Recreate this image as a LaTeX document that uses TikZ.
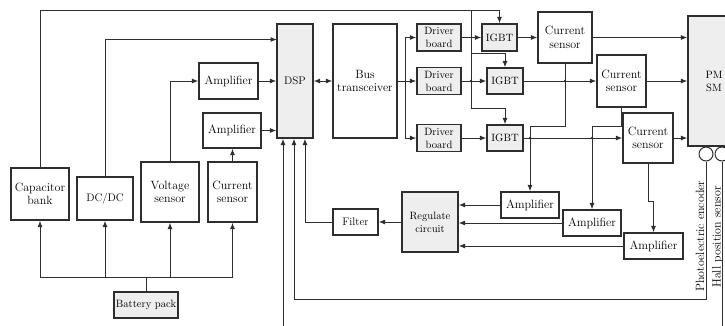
\documentclass[tikz,border=0pt]{standalone}
\usetikzlibrary{arrows.meta,calc}
\definecolor{lc}{HTML}{2E2E2E}
\definecolor{gf}{HTML}{EEEEEE}
\begin{document}
\begin{tikzpicture}[x=1pt,y=-1pt,
  lw/.style={draw=lc,line width=1pt},
  arr/.style={lw,-{Latex[length=6.5pt,width=5pt]}},
  darr/.style={lw,{Latex[length=6.5pt,width=5pt]}-{Latex[length=6.5pt,width=5pt]}},
  box/.style={draw=lc,line width=1.2pt,fill=white,align=center,inner sep=0pt,font=\fontsize{12}{13.5}\selectfont,text=black},
  gbox/.style={box,fill=gf},
  sm/.style={font=\fontsize{10.6}{13}\selectfont},
  md/.style={font=\fontsize{11}{13.5}\selectfont},
  sz/.style 2 args={minimum width=#1pt,minimum height=#2pt},
  ring/.style={circle,draw=lc,line width=1pt,fill=white,minimum size=14pt,inner sep=0pt},
  vlab/.style={rotate=90,inner sep=0pt,font=\fontsize{12}{14}\selectfont,text=black}
]
\useasboundingbox (0,0) rectangle (725,325);
\clip (0,0) rectangle (725,325);

% nodes
\node[box,sz={58}{52}] (cap) at (40,194) {Capacitor\\bank};
\node[box,md,sz={56}{43}] (dcdc) at (105,198.5) {DC/DC};
\node[box,sz={58}{60}] (volt) at (170,192) {Voltage\\sensor};
\node[box,sz={49}{60}] (curL) at (232.5,192) {Current\\sensor};
\node[gbox,sm,sz={64}{26}] (batt) at (146,305) {Battery pack};
\node[box,sz={59}{36}] (amp1) at (228.5,81) {Amplifier};
\node[box,sz={58}{35}] (amp2) at (232,130.5) {Amplifier};
\node[gbox,md,sz={36}{114}] (dsp) at (295,81) {DSP};
\node[box,sz={64}{114}] (bus) at (365,81) {Bus\\transceiver};
\node[gbox,sm,sz={44}{27}] (drv1) at (439,37.5) {Driver\\board};
\node[gbox,sm,sz={44}{27}] (drv2) at (439,81) {Driver\\board};
\node[gbox,sm,sz={44}{27}] (drv3) at (439,138) {Driver\\board};
\node[gbox,sm,sz={35}{27}] (igbt1) at (499.5,37.5) {IGBT};
\node[gbox,sm,sz={36}{26}] (igbt2) at (505,81) {IGBT};
\node[gbox,sm,sz={36}{26}] (igbt3) at (505,138) {IGBT};
\node[box,sz={54}{51}] (cs1) at (565,37.5) {Current\\sensor};
\node[box,sz={49}{52}] (cs2) at (621.5,81) {Current\\sensor};
\node[box,sz={50}{50}] (cs3) at (648,138) {Current\\sensor};
\node[gbox,sm,sz={52}{130}] (pmsm) at (714,81) {PM\\SM};
\node[box,sz={58}{26}] (ampA) at (530,205) {Amplifier};
\node[box,sz={58}{26}] (ampB) at (592,223) {Amplifier};
\node[box,sz={59}{26}] (ampC) at (653.5,246) {Amplifier};
\node[gbox,sm,sz={56}{60}] (reg) at (430,222) {Regulate\\circuit};
\node[box,md,sz={45}{26}] (filt) at (355.5,222) {Filter};
\node[ring] (enc) at (706,154) {};
\node[ring] (hall) at (722,154) {};
\node[vlab] (encl) at (700,236) {Photoelectric encoder};
\node[vlab] (halll) at (717.5,237) {Hall position sensor};

% coordinates
\coordinate (pb) at (146,277);
\coordinate (top) at (40,10);
\coordinate (j1) at (471,10);
\coordinate (j2) at (471,53);
\coordinate (j3) at (471,108);
\coordinate (d1) at (277,39.5);
\coordinate (bj) at (405,81);
\coordinate (k1) at (565,126.5);
\coordinate (k2) at (621.5,126.5);
\coordinate (k3) at (648,201);
\coordinate (f1) at (305,222);
\coordinate (e1) at (706,299);
\coordinate (e2) at (294,299);
\coordinate (b0) at (283,330);
\coordinate (h0) at (722,330);

% battery bus
\draw[lw] (batt.north) -- (pb);
\draw[lw] (cap.south |- pb) -- (curL.south |- pb);
\foreach \n in {cap,dcdc,volt,curL} \draw[arr] (\n.south |- pb) -- (\n.south);

% top line to IGBTs
\draw[arr] (cap.north) -- (top) -| (igbt1.north);
\draw[lw] (j1) -- (j3);
\draw[arr] (j2) -| (igbt2.north);
\draw[arr] (j3) -| (igbt3.north);

% left inputs to DSP
\draw[arr] (dcdc.north) |- (d1);
\draw[arr] (volt.north) |- (amp1.west);
\draw[arr] (amp1.east) -- (amp1.east -| dsp.west);
\draw[arr] (curL.north) -- (curL.north |- amp2.south);
\draw[arr] (amp2.east) -- (amp2.east -| dsp.west);
\draw[darr] (dsp.east) -- (bus.west);

% bus to drivers
\draw[lw] (bus.east) -- (bj);
\draw[arr] (bj) |- (drv1.west);
\draw[arr] (bj) -- (drv2.west);
\draw[arr] (bj) |- (drv3.west);
\draw[arr] (drv1.east) -- (igbt1.west);
\draw[arr] (drv2.east) -- (igbt2.west);
\draw[arr] (drv3.east) -- (igbt3.west);

% IGBT to current sensors to PMSM
\draw[arr] (igbt1.east) -- (cs1.west);
\draw[arr] (igbt2.east) -- (cs2.west);
\draw[arr] (igbt3.east) -- (cs3.west);
\draw[arr] (cs1.east) -- (cs1.east -| pmsm.west);
\draw[arr] (cs2.east) -- (cs2.east -| pmsm.west);
\draw[arr] (cs3.east) -- (cs3.east -| pmsm.west);

% current sensors to amplifiers
\draw[arr] (cs1.south) -- (k1) -| (ampA.north);
\draw[arr] (cs2.south) -- (k2) -| (ampB.north);
\draw[arr] (cs3.south) -- (k3) -| (ampC.north);

% amplifiers to regulate circuit
\draw[arr] (ampA.west) -- (ampA.west -| reg.east);
\draw[arr] (ampB.west) -- (ampB.west -| reg.east);
\draw[arr] (ampC.west) -- (ampC.west -| reg.east);
\draw[arr] (reg.west) -- (filt.east);
\draw[arr] (filt.west) -- (f1) -- (f1 |- dsp.south);

% encoder / hall feedback
\draw[arr] (enc.south) -- (e1) -- (e2) -- (e2 |- dsp.south);
\draw[arr] (b0) -- (b0 |- dsp.south);
\draw[lw] (hall.south) -- (h0);

% crossing dots
\foreach \p in {(471,81),(565,81),(530,138),(592,138)} \fill[lc] \p circle (1.3pt);
\end{tikzpicture}
\end{document}
